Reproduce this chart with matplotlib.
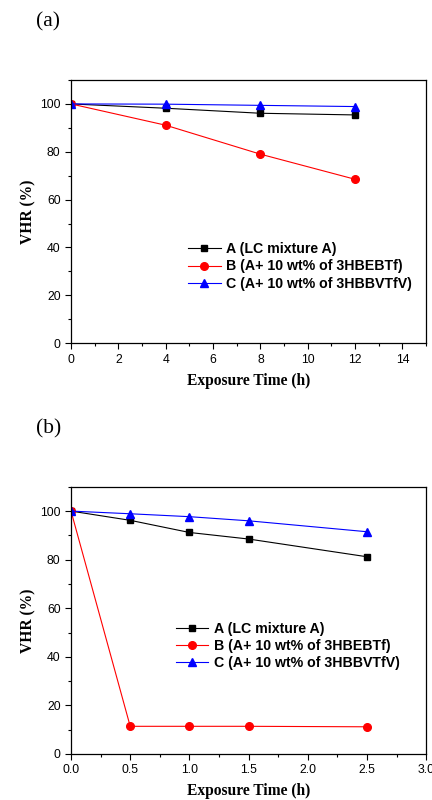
import matplotlib.pyplot as plt

# panel (a) data
time_a = [0, 4, 8, 12]
vhr_a_A = [100, 98.2, 96.1, 95.4]
vhr_a_B = [100, 91.1, 79.0, 68.5]
vhr_a_C = [100, 99.9, 99.4, 98.9]

# panel (b) data
time_b = [0, 0.5, 1.0, 1.5, 2.5]
vhr_b_A = [100, 96.2, 91.2, 88.5, 81.2]
vhr_b_B = [100, 11.4, 11.4, 11.4, 11.2]
vhr_b_C = [100, 98.9, 97.7, 96.0, 91.5]

labels = ['A (LC mixture A)', 'B (A+ 10 wt% of 3HBEBTf)', 'C (A+ 10 wt% of 3HBBVTfV)']

serif = 'Liberation Serif'
sans = 'Liberation Sans'


def draw_panel(ax, t, a, b, c, xmax, xmajor, xminor, xfmt, leg_anchor):
    ax.plot(t, a, color='black', marker='s', ms=5, lw=0.8, label=labels[0])
    ax.plot(t, b, color='red', marker='o', ms=5.5, lw=0.8, label=labels[1])
    ax.plot(t, c, color='blue', marker='^', ms=6, lw=0.8, label=labels[2])
    nmaj = int(xmax / xmajor + 1e-9)
    nmin = int(xmax / xminor + 1e-9)
    ax.set_xticks([i * xmajor for i in range(nmaj + 1)])
    ax.set_xticklabels([xfmt.format(i * xmajor) for i in range(nmaj + 1)])
    ax.set_xticks([i * xminor for i in range(nmin + 1)], minor=True)
    ax.set_yticks(range(0, 101, 20))
    ax.set_yticks(range(0, 111, 10), minor=True)
    ax.set_xlim(0, xmax)
    ax.set_ylim(0, 110)
    ax.tick_params(which='both', direction='out', top=False, right=False, labelsize=8.8, width=0.8)
    ax.tick_params(which='major', length=4)
    ax.tick_params(which='minor', length=2.5)
    for lab in ax.get_xticklabels() + ax.get_yticklabels():
        lab.set_fontfamily(sans)
    for sp in ax.spines.values():
        sp.set_linewidth(0.9)
    ax.set_xlabel('Exposure Time (h)', fontfamily=serif, fontweight='bold', fontsize=11.2, labelpad=5)
    ax.set_ylabel('VHR (%)', fontfamily=serif, fontweight='bold', fontsize=11.2, labelpad=3)
    ax.legend(loc='upper left', bbox_to_anchor=leg_anchor, frameon=False,
              prop={'family': sans, 'weight': 'bold', 'size': 10.2},
              handlelength=2.3, handletextpad=0.4, labelspacing=0.22, borderpad=0)


fig = plt.figure(figsize=(4.32, 8), dpi=100)

ax1 = fig.add_axes([0.1644, 0.571, 0.822, 0.329])
draw_panel(ax1, time_a, vhr_a_A, vhr_a_B, vhr_a_C, 15, 2, 1, '{:g}', (0.31, 0.41))
fig.text(0.083, 0.973, '(a)', fontfamily=serif, fontsize=15.5, va='center', ha='left')

ax2 = fig.add_axes([0.1644, 0.0575, 0.822, 0.334])
draw_panel(ax2, time_b, vhr_b_A, vhr_b_B, vhr_b_C, 3.0, 0.5, 0.25, '{:.1f}', (0.275, 0.52))
fig.text(0.083, 0.464, '(b)', fontfamily=serif, fontsize=15.5, va='center', ha='left')

fig.savefig('out.png', dpi=100)
